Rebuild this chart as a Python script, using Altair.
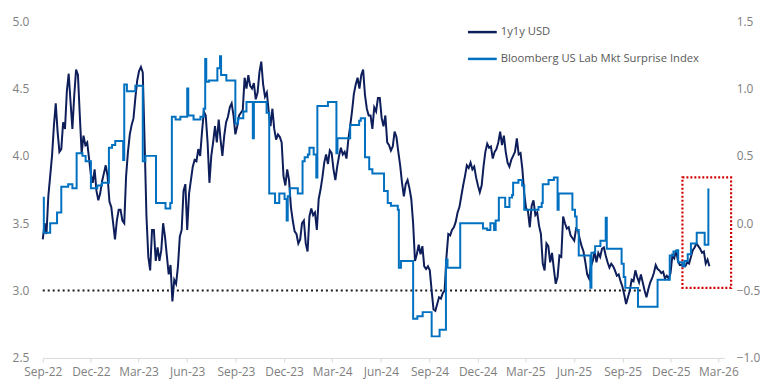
import altair as alt
import pandas as pd

# ---------------- data ----------------
start_date = "2022-09-01"
# 1y1y USD (left axis), twice-weekly readings (every 3.5 days)
usd_1y1y = [
    3.38, 3.5, 3.42, 3.7, 3.85, 4.0, 4.22, 4.39, 4.18, 4.03,
    4.05, 4.25, 4.2, 4.48, 4.61, 4.4, 4.2, 4.45, 4.64, 4.6,
    4.3, 4.02, 4.15, 4.08, 4.1, 3.98, 3.86, 3.8, 3.9, 3.74,
    3.67, 3.72, 3.81, 3.87, 3.93, 3.85, 3.66, 3.62, 3.5, 3.38,
    3.52, 3.6, 3.6, 3.52, 3.5, 3.85, 4.03, 4.16, 4.23, 4.28,
    4.43, 4.56, 4.63, 4.66, 4.62, 4.1, 3.55, 3.25, 3.15, 3.45,
    3.45, 3.22, 3.32, 3.22, 3.3, 3.5, 3.4, 3.26, 3.12, 3.19,
    2.92, 3.08, 3.05, 3.18, 3.4, 3.45, 3.74, 3.79, 3.45, 3.72,
    3.82, 3.92, 3.97, 3.96, 4.05, 4.0, 4.18, 4.33, 4.3, 4.1,
    3.8, 4.0, 4.1, 4.22, 4.1, 4.27, 4.12, 4.0, 4.15, 4.25,
    4.29, 4.36, 4.39, 4.3, 4.16, 4.22, 4.3, 4.32, 4.34, 4.58,
    4.5, 4.6, 4.52, 4.5, 4.54, 4.42, 4.47, 4.62, 4.7, 4.53,
    4.44, 4.47, 4.33, 4.22, 4.35, 4.2, 4.12, 4.16, 4.14, 4.1,
    3.85, 3.78, 3.9, 3.82, 3.62, 3.52, 3.44, 3.42, 3.35, 3.38,
    3.5, 3.52, 3.35, 3.29, 3.55, 3.61, 3.56, 3.58, 3.45, 3.68,
    3.75, 3.84, 3.95, 4.01, 3.94, 4.04, 4.02, 3.9, 3.82, 3.92,
    4.0, 4.06, 4.01, 4.03, 3.98, 4.12, 4.22, 4.33, 4.46, 4.53,
    4.58, 4.5, 4.6, 4.64, 4.45, 4.35, 4.3, 4.3, 4.2, 4.36,
    4.33, 4.43, 4.43, 4.28, 4.22, 4.3, 4.1, 4.08, 4.04, 4.07,
    4.18, 4.14, 4.03, 3.93, 3.8, 3.7, 3.79, 3.82, 3.76, 3.68,
    3.5, 3.22, 3.27, 3.34, 3.27, 3.33, 3.18, 3.16, 3.18, 3.15,
    3.0, 2.86, 2.85, 2.9, 2.95, 2.94, 2.98, 3.0, 3.25, 3.42,
    3.41, 3.45, 3.47, 3.51, 3.58, 3.62, 3.7, 3.78, 3.85, 3.93,
    3.91, 3.95, 3.9, 3.92, 3.84, 3.78, 3.73, 3.78, 3.92, 4.03,
    4.09, 4.06, 4.07, 3.98, 4.03, 4.05, 4.1, 4.18, 4.08, 4.15,
    4.03, 3.95, 3.92, 3.97, 4.0, 4.03, 4.13, 4.01, 4.02, 3.9,
    3.72, 3.61, 3.59, 3.47, 3.63, 3.67, 3.56, 3.58, 3.48, 3.42,
    3.2, 3.15, 3.35, 3.33, 3.21, 3.28, 3.16, 3.05, 3.1, 3.26,
    3.25, 3.55, 3.5, 3.46, 3.47, 3.41, 3.39, 3.37, 3.46, 3.45,
    3.38, 3.33, 3.29, 3.21, 3.12, 3.09, 3.18, 3.22, 3.29, 3.21,
    3.28, 3.25, 3.31, 3.32, 3.26, 3.21, 3.17, 3.2, 3.18, 3.15,
    3.11, 3.12, 3.07, 3.03, 2.97, 2.9, 2.95, 3.0, 3.08, 3.07,
    3.15, 3.1, 3.06, 3.12, 3.06, 3.0, 2.95, 3.01, 3.06, 3.09,
    3.13, 3.19, 3.16, 3.15, 3.13, 3.14, 3.09, 3.11, 3.09, 3.13,
    3.26, 3.24, 3.3, 3.22, 3.19, 3.19, 3.18, 3.18, 3.21, 3.2,
    3.25, 3.3, 3.32, 3.35, 3.33, 3.31, 3.28, 3.29, 3.2, 3.23,
    3.18,
]

# Bloomberg US Labour Market Surprise Index (right axis), level changes
bb_dates = [
    "2022-09-01", "2022-09-03", "2022-09-15", "2022-09-28", "2022-10-06", "2022-10-19",
    "2022-10-27", "2022-11-04", "2022-11-15", "2022-11-21", "2022-12-01", "2022-12-13",
    "2022-12-22", "2023-01-04", "2023-01-10", "2023-01-16", "2023-01-31", "2023-02-02",
    "2023-02-07", "2023-02-23", "2023-03-09", "2023-03-14", "2023-04-03", "2023-04-21",
    "2023-04-30", "2023-05-03", "2023-05-10", "2023-05-19", "2023-06-01", "2023-06-03",
    "2023-06-13", "2023-06-26", "2023-07-02", "2023-07-05", "2023-07-07", "2023-07-12",
    "2023-07-28", "2023-08-02", "2023-08-04", "2023-08-14", "2023-08-31", "2023-09-05",
    "2023-09-15", "2023-09-21", "2023-10-03", "2023-10-05", "2023-10-29", "2023-11-03",
    "2023-11-14", "2023-11-22", "2023-12-02", "2023-12-06", "2023-12-08", "2023-12-12",
    "2023-12-27", "2024-01-05", "2024-01-09", "2024-01-15", "2024-01-18", "2024-01-26",
    "2024-01-31", "2024-02-02", "2024-02-22", "2024-03-09", "2024-03-11", "2024-04-04",
    "2024-04-21", "2024-04-24", "2024-05-02", "2024-05-10", "2024-05-16", "2024-06-07",
    "2024-06-14", "2024-06-20", "2024-07-03", "2024-07-05", "2024-07-09", "2024-08-01",
    "2024-08-09", "2024-08-19", "2024-09-05", "2024-09-20", "2024-10-02", "2024-10-05",
    "2024-10-29", "2024-12-11", "2024-12-19", "2024-12-25", "2025-01-01", "2025-01-04",
    "2025-01-10", "2025-01-22", "2025-01-30", "2025-02-04", "2025-02-06", "2025-02-16",
    "2025-02-23", "2025-02-27", "2025-03-26", "2025-04-01", "2025-04-03", "2025-04-14",
    "2025-04-24", "2025-05-01", "2025-05-03", "2025-05-29", "2025-06-03", "2025-06-06",
    "2025-06-10", "2025-07-02", "2025-07-04", "2025-07-11", "2025-07-21", "2025-07-31",
    "2025-08-02", "2025-08-30", "2025-09-03", "2025-09-06", "2025-09-30", "2025-11-06",
    "2025-11-29", "2025-12-06", "2025-12-12", "2025-12-15", "2025-12-23", "2025-12-27",
    "2026-01-02", "2026-01-08", "2026-01-19", "2026-02-03", "2026-02-10", "2026-02-12",
]
bb_values = [
    0.19, -0.07, 0.0, 0.08, 0.27, 0.29,
    0.26, 0.52, 0.5, 0.46, 0.26, 0.28,
    0.3, 0.56, 0.58, 0.61, 0.47, 1.03,
    0.98, 1.02, 0.46, 0.5, 0.15, 0.11,
    0.15, 0.79, 0.77, 0.79, 1.0, 0.8,
    0.77, 0.79, 0.85, 1.22, 1.05, 1.06,
    1.15, 1.24, 1.1, 1.06, 0.74, 0.78,
    0.83, 0.9, 0.63, 0.9, 0.82, 0.22,
    0.15, 0.22, 0.18, 0.02, 0.2, 0.26,
    0.22, 0.46, 0.49, 0.51, 0.56, 0.51,
    0.34, 0.87, 0.9, 0.52, 0.63, 0.73,
    0.76, 0.78, 0.49, 0.4, 0.37, 0.24,
    0.15, 0.13, 0.1, -0.33, -0.28, -0.71,
    -0.69, -0.66, -0.84, -0.79, -0.27, -0.33,
    0.0, -0.04, -0.05, 0.0, -0.05, 0.02,
    0.19, 0.12, 0.19, 0.21, 0.3, 0.32,
    0.28, 0.1, 0.12, 0.15, 0.29, 0.32,
    0.34, 0.1, 0.22, 0.1, 0.05, -0.05,
    -0.24, -0.48, -0.22, -0.17, -0.13, 0.04,
    -0.19, -0.3, -0.4, -0.48, -0.62, -0.42,
    -0.24, -0.21, -0.2, -0.29, -0.32, -0.28,
    -0.23, -0.15, -0.07, -0.16, 0.25, 0.25,
]

tick_dates = [
    "2022-09-01", "2022-12-01", "2023-03-01", "2023-06-01", "2023-09-01",
    "2023-12-01", "2024-03-01", "2024-06-01", "2024-09-01", "2024-12-01",
    "2025-03-01", "2025-06-01", "2025-09-01", "2025-12-01", "2026-03-01",
]
x_domain = ["2022-09-01", "2026-03-12"]
left_ticks = [2.5, 3.0, 3.5, 4.0, 4.5, 5.0]
right_ticks = [-1.0, -0.5, 0.0, 0.5, 1.0, 1.5]
reference_level = [3.0]
reference_span = ["2022-09-01", "2025-10-09"]
highlight_x = ["2025-12-23", "2026-03-25"]
highlight_y = [3.02, 3.84]
series_names = ["1y1y USD", "Bloomberg US Lab Mkt Surprise Index"]

# ---------------- styling ----------------
DARK = "#0D1E5A"
LIGHT = "#0070C0"
GREY = "#808080"
FONT = "Open Sans"


def dt(s):
    t = pd.Timestamp(s)
    return alt.DateTime(year=t.year, month=t.month, date=t.day)


df_usd = pd.DataFrame({
    "date": pd.date_range(start_date, periods=len(usd_1y1y), freq="84h"),
    "value": usd_1y1y,
})
df_bb = pd.DataFrame({"date": pd.to_datetime(bb_dates), "value": bb_values})
df_ref = pd.DataFrame({
    "start": [pd.Timestamp(reference_span[0])],
    "end": [pd.Timestamp(reference_span[1])],
    "level": reference_level,
})
df_box = pd.DataFrame({
    "x1": [pd.Timestamp(highlight_x[0])], "x2": [pd.Timestamp(highlight_x[1])],
    "y1": [highlight_y[0]], "y2": [highlight_y[1]],
})

x_scale = alt.Scale(domain=[dt(x_domain[0]), dt(x_domain[1])])
x_axis = alt.Axis(
    values=[dt(d) for d in tick_dates], format="%b-%y", title=None, grid=False,
    labelColor=GREY, labelFont=FONT, labelFontSize=12, labelPadding=5,
    tickColor="#D9D9D9", tickSize=4, domainColor="#D9D9D9", domainWidth=1,
    labelFlush=False, labelOverlap=False,
)
left_scale = alt.Scale(domain=[2.5, 5.0], nice=False, zero=False)
left_axis = alt.Axis(
    values=left_ticks, format=".1f", title=None, grid=False, domain=False,
    ticks=False, labelColor=GREY, labelFont=FONT, labelFontSize=12,
    labelPadding=14, orient="left",
)
right_scale = alt.Scale(domain=[-1.0, 1.5], nice=False, zero=False)
right_axis = alt.Axis(
    values=right_ticks, format=".1f", title=None, grid=False, domain=False,
    ticks=False, labelColor=GREY, labelFont=FONT, labelFontSize=12,
    labelPadding=12, orient="right", labelAlign="left",
)

ref_rule = alt.Chart(df_ref).mark_rule(
    color="#1a1a1a", strokeDash=[2, 3], strokeWidth=2
).encode(
    x=alt.X("start:T", scale=x_scale, axis=x_axis),
    x2="end:T",
    y=alt.Y("level:Q", scale=left_scale, axis=left_axis),
)

usd_line = alt.Chart(df_usd).mark_line(color=DARK, strokeWidth=2).encode(
    x=alt.X("date:T", scale=x_scale, axis=x_axis),
    y=alt.Y("value:Q", scale=left_scale, axis=left_axis),
)

box = alt.Chart(df_box).mark_rect(
    fill=None, fillOpacity=0, stroke="#D00000", strokeWidth=2.2, strokeDash=[2, 2]
).encode(
    x=alt.X("x1:T", scale=x_scale, axis=x_axis),
    x2="x2:T",
    y=alt.Y("y1:Q", scale=left_scale, axis=left_axis),
    y2="y2:Q",
)

left_group = alt.layer(ref_rule, usd_line, box)

bb_line = alt.Chart(df_bb).mark_line(
    color=LIGHT, strokeWidth=2, interpolate="step-after"
).encode(
    x=alt.X("date:T", scale=x_scale, axis=x_axis),
    y=alt.Y("value:Q", scale=right_scale, axis=right_axis),
)

# manual legend
leg_df = pd.DataFrame({"name": series_names})
legend_layers = []
for i, (name, col) in enumerate(zip(series_names, [DARK, LIGHT])):
    yy = 11 + 27 * i
    legend_layers.append(
        alt.Chart(leg_df.iloc[[i]]).mark_rule(color=col, strokeWidth=2.5).encode(
            x=alt.value(428), x2=alt.value(457), y=alt.value(yy)
        )
    )
    legend_layers.append(
        alt.Chart(leg_df.iloc[[i]]).mark_text(
            align="left", baseline="middle", font=FONT, fontSize=11.3, color="#595959"
        ).encode(x=alt.value(461), y=alt.value(yy), text="name:N")
    )

chart = alt.layer(left_group, bb_line, *legend_layers).resolve_scale(
    y="independent"
).properties(
    width=686,
    height=339,
    autosize=alt.AutoSizeParams(type="none"),
    padding={"left": 35, "top": 12, "right": 36, "bottom": 26},
    background="white",
).configure_view(stroke=None)

chart.save("out.html", embed_options={"renderer": "svg", "actions": False})
